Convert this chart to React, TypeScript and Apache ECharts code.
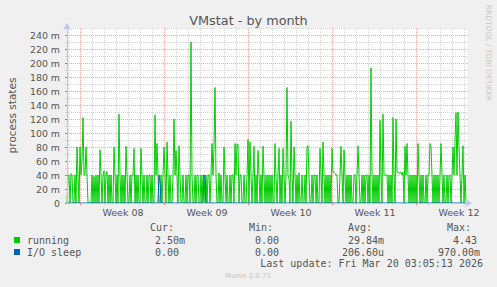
import React, { useEffect, useRef } from 'react';
import * as echarts from 'echarts';

// x values are hours, 0 = Monday 16 Feb 2026 00:00 (start of week 08)
const START_HOUR = -26;
const STEP_HOURS = 2;
const END_HOUR = 776;

const weekStartHours = [0, 168, 336, 504, 672];
const weekLabelHours = [86, 254, 422, 590, 758];
const weekLabels = ['Week 08', 'Week 09', 'Week 10', 'Week 11', 'Week 12'];

// running processes (milli units), one value per 2 hours
const running: number[] = [
  0, 38, 40, 0, 42, 40, 0, 0, 40, 0,
  80, 40, 0, 80, 40, 60, 122, 40, 40, 80,
  40, 0, 0, 0, 0, 40, 0, 38, 0, 40,
  0, 40, 0, 76, 40, 0, 40, 46, 0, 40,
  45, 0, 40, 0, 40, 0, 0, 80, 40, 0,
  40, 0, 127, 40, 0, 40, 0, 40, 0, 81,
  40, 0, 0, 40, 0, 40, 40, 78, 0, 40,
  0, 40, 0, 0, 78, 40, 0, 40, 0, 0,
  40, 0, 40, 40, 0, 40, 0, 0, 126, 40,
  85, 40, 0, 0, 40, 0, 40, 80, 40, 0,
  87, 40, 0, 40, 0, 0, 40, 120, 40, 75,
  40, 0, 82, 40, 0, 0, 40, 0, 0, 40,
  0, 40, 40, 0, 230, 40, 0, 0, 40, 0,
  40, 40, 0, 0, 40, 0, 40, 40, 0, 40,
  0, 40, 40, 0, 40, 85, 40, 80, 165, 40,
  0, 0, 43, 0, 40, 0, 0, 80, 40, 0,
  40, 0, 0, 40, 0, 40, 40, 0, 85, 40,
  84, 84, 0, 40, 40, 0, 0, 40, 0, 0,
  40, 91, 0, 87, 40, 0, 40, 81, 0, 40,
  0, 75, 40, 0, 40, 0, 81, 40, 0, 40,
  0, 40, 0, 40, 0, 40, 0, 0, 85, 40,
  0, 40, 78, 0, 40, 0, 78, 40, 0, 40,
  165, 40, 35, 0, 117, 40, 0, 80, 40, 0,
  40, 0, 43, 0, 0, 40, 0, 0, 40, 0,
  80, 82, 40, 0, 0, 40, 0, 40, 40, 0,
  40, 0, 0, 78, 40, 0, 87, 40, 0, 40,
  0, 40, 0, 40, 0, 78, 44, 44, 42, 40,
  40, 0, 0, 40, 81, 40, 0, 76, 40, 0,
  40, 0, 40, 0, 40, 0, 0, 40, 40, 0,
  40, 82, 40, 0, 0, 40, 0, 40, 0, 40,
  40, 0, 40, 0, 193, 40, 0, 40, 0, 40,
  0, 40, 0, 118, 40, 0, 127, 40, 40, 40,
  40, 0, 40, 0, 40, 0, 122, 40, 0, 120,
  44, 44, 42, 44, 44, 40, 44, 0, 81, 40,
  85, 40, 0, 40, 0, 40, 0, 40, 0, 40,
  0, 85, 40, 0, 40, 0, 40, 0, 0, 40,
  0, 40, 40, 85, 80, 40, 0, 40, 0, 40,
  0, 40, 0, 40, 85, 40, 0, 40, 0, 0,
  40, 0, 40, 40, 0, 40, 80, 40, 90, 129,
  40, 130, 80, 40, 0, 40, 82, 0, 40, 3,
];

// I/O sleep (milli units): [sample index, value]
const ioSleep: [number, number][] = [
  [0, 0], [91, 0], [92, 40], [93, 30], [94, 0],
  [136, 0], [137, 40], [138, 35], [139, 0], [399, 0],
];

const yLabelMax = 250;
const legendNames = ['running', 'I/O sleep'];
const legendColors = ['#00cc00', '#0066b3'];
const statHeaders = ['Cur:', 'Min:', 'Avg:', 'Max:'];
const runningStats = ['2.50m', '0.00', '29.84m', '4.43'];
const ioSleepStats = ['0.00', '0.00', '206.60u', '970.00m'];
const lastUpdate = 'Last update: Fri Mar 20 03:05:13 2026';

const dayHours: number[] = [];
for (let h = -24; h <= END_HOUR; h += 24) dayHours.push(h);

const RED = '#eca8a8';
const GRAY = '#d4d4d4';
const AXIS = '#bcc4f0';
const TXT = '#555555';
const SANS = 'DejaVu Sans';
const MONO = 'DejaVu Sans Mono';

export default function App() {
  const ref = useRef<HTMLDivElement>(null);
  useEffect(() => {
    document.body.style.margin = '0';
    const chart = echarts.init(ref.current!, null, { renderer: 'svg' });
    const baseX = { type: 'value', min: START_HOUR, max: END_HOUR, position: 'bottom', offset: 0 };
    const baseY = { type: 'value', min: 0, max: yLabelMax, position: 'left', offset: 0 };
    const statLeft = [
      [155, 255, 348, 453],
      [155, 255, 342, 438],
    ];
    const rowsY = [240, 252];
    const graphics: any[] = [];
    statHeaders.forEach((h, i) => {
      graphics.push({ type: 'text', x: 150 + 99 * i, y: 227, style: { text: h, font: `10px "${MONO}"`, fill: TXT, verticalAlign: 'middle' } });
    });
    [runningStats, ioSleepStats].forEach((stats, r) => {
      graphics.push({ type: 'rect', shape: { x: 14, y: rowsY[r] - 3, width: 6, height: 6 }, style: { fill: legendColors[r] } });
      graphics.push({ type: 'text', x: 27, y: rowsY[r], style: { text: legendNames[r], font: `10px "${MONO}"`, fill: TXT, verticalAlign: 'middle' } });
      stats.forEach((s, i) => {
        graphics.push({ type: 'text', x: statLeft[r][i], y: rowsY[r], style: { text: s, font: `10px "${MONO}"`, fill: TXT, verticalAlign: 'middle' } });
      });
    });
    graphics.push({ type: 'text', x: 483, y: 263.5, style: { text: lastUpdate, font: `10px "${MONO}"`, fill: TXT, align: 'right', verticalAlign: 'middle' } });
    graphics.push({ type: 'text', x: 248, y: 276, style: { text: 'Munin 2.0.75', font: `7px "${SANS}"`, fill: '#c4c4c4', align: 'center', verticalAlign: 'middle' } });
    graphics.push({ type: 'text', x: 488, y: 53, rotation: -Math.PI / 2, style: { text: 'RRDTOOL / TOBI OETIKER', font: `7.5px "${SANS}"`, fill: '#c8c8c8', align: 'center', verticalAlign: 'middle' } });

    chart.setOption({
      animation: false,
      backgroundColor: '#f0f0f0',
      title: {
        text: 'VMstat - by month', left: 'center', top: 9,
        textStyle: { fontFamily: SANS, fontSize: 12.8, fontWeight: 'normal', color: TXT },
      },
      grid: {
        left: 67, right: 29, top: 28, bottom: 84, show: true, backgroundColor: '#ffffff', borderWidth: 0,
        containLabel: false, outerBoundsMode: 'none',
      },
      xAxis: [
        {
          ...baseX, z: 0,
          axisLine: { show: false, onZero: false },
          axisTick: { show: true, customValues: dayHours, length: 2, lineStyle: { color: GRAY } },
          splitLine: { show: true, lineStyle: { color: GRAY, type: [1, 1], width: 1 } },
          axisLabel: {
            show: true, customValues: weekLabelHours, margin: 4, hideOverlap: false,
            fontFamily: SANS, fontSize: 9.5, color: TXT,
            formatter: (v: number) => weekLabels[weekLabelHours.indexOf(v)] ?? '',
          },
        },
        {
          ...baseX, z: 1,
          axisLine: { show: false, onZero: false },
          axisTick: { show: true, customValues: weekStartHours, length: 2, lineStyle: { color: '#e06060' } },
          splitLine: { show: true, lineStyle: { color: RED, type: [1, 1], width: 1 } },
          axisLabel: { show: false },
        },
        {
          ...baseX, z: 10,
          axisLine: { show: true, onZero: false, lineStyle: { color: AXIS, width: 1 }, symbol: ['none', 'arrow'], symbolSize: [6, 7], symbolOffset: [0, 4] },
          axisTick: { show: false }, splitLine: { show: false }, axisLabel: { show: false },
        },
      ],
      yAxis: [
        {
          ...baseY, interval: 20, z: 1,
          name: 'process states', nameLocation: 'middle', nameGap: 50,
          nameTextStyle: { fontFamily: SANS, fontSize: 10.5, color: TXT },
          axisLine: { show: false, onZero: false },
          axisTick: { show: true, length: 2, lineStyle: { color: '#e06060' } },
          splitLine: { show: true, showMaxLine: false, lineStyle: { color: [RED, RED, RED, RED, RED, RED, RED, RED, RED, RED, RED, RED, RED, 'rgba(0,0,0,0)'], type: [1, 1], width: 1 } },
          axisLabel: {
            show: true, showMaxLabel: false, margin: 7, fontFamily: SANS, fontSize: 9.4, color: TXT,
            formatter: (v: number) => (v === 0 ? '0' : `${v} m`),
          },
        },
        {
          ...baseY, interval: 10, z: 0,
          axisLine: { show: false, onZero: false },
          axisTick: { show: true, length: 2, lineStyle: { color: GRAY } },
          splitLine: { show: true, lineStyle: { color: GRAY, type: [1, 1], width: 1 } },
          axisLabel: { show: false },
        },
        {
          ...baseY, z: 10,
          axisLine: { show: true, onZero: false, lineStyle: { color: AXIS, width: 1 }, symbol: ['none', 'arrow'], symbolSize: [6, 7], symbolOffset: [0, 5] },
          axisTick: { show: false }, splitLine: { show: false }, axisLabel: { show: false },
        },
      ],
      series: [
        {
          type: 'line', name: 'running', xAxisIndex: 0, yAxisIndex: 0, z: 3,
          data: running.map((v, i) => [START_HOUR + i * STEP_HOURS, v]),
          showSymbol: false, symbol: 'none', lineStyle: { color: legendColors[0], width: 1 },
          emphasis: { disabled: true },
        },
        {
          type: 'line', name: 'I/O sleep', xAxisIndex: 0, yAxisIndex: 0, z: 4,
          data: ioSleep.map(([i, v]) => [START_HOUR + i * STEP_HOURS, v]),
          showSymbol: false, symbol: 'none', lineStyle: { color: legendColors[1], width: 1 },
          emphasis: { disabled: true },
        },
      ],
      graphic: graphics,
    });
    return () => chart.dispose();
  }, []);
  return <div ref={ref} style={{ position: 'fixed', left: 0, top: 0, width: 497, height: 287 }} />;
}
